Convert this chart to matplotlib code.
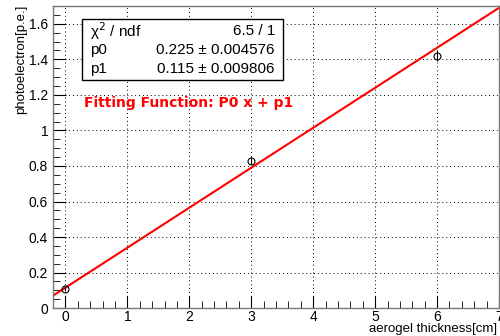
import matplotlib.pyplot as plt
import numpy as np
from matplotlib.ticker import MultipleLocator

plt.rcParams["font.family"] = ["Liberation Sans", "DejaVu Sans"]

# measured points
thickness = [0, 3, 6]
photoelectron = [0.11, 0.83, 1.42]
pe_err = [0.012, 0.018, 0.03]

# fit result (p0 * x + p1)
p0 = 0.225
p1 = 0.115
stats_labels = ["χ$^2$ / ndf", "p0", "p1"]
stats_values = ["6.5 / 1", "0.225 ± 0.004576", "0.115 ± 0.009806"]

fig = plt.figure(figsize=(5, 3.36), dpi=100)
ax = fig.add_axes([0.106, 0.083, 0.892, 0.899])

xfit = np.array([-0.2, 7.0])
ax.plot(xfit, p0 * xfit + p1, color="red", lw=1.5, zorder=2)
ax.errorbar(thickness, photoelectron, yerr=pe_err, fmt="o", mfc="none", mec="black",
            ecolor="black", ms=5, mew=0.8, elinewidth=0.8, capsize=0, zorder=3)

ax.set_xlim(-0.2, 7)
ax.set_ylim(0, 1.7)
ax.xaxis.set_major_locator(MultipleLocator(1))
ax.xaxis.set_minor_locator(MultipleLocator(0.2))
ax.yaxis.set_major_locator(MultipleLocator(0.2))
ax.yaxis.set_minor_locator(MultipleLocator(0.05))
ax.tick_params(which="both", direction="in", top=False, right=False, labelsize=10)
ax.tick_params(which="major", length=9)
ax.tick_params(which="minor", length=5)
ax.tick_params(axis="x", pad=1)
ax.set_yticks(ax.get_yticks())
ax.set_yticklabels([f"{v:g}" for v in ax.get_yticks()])
ax.set_ylim(0, 1.7)
ax.grid(True, which="major", ls=(0, (1, 3)), color="black", lw=0.7)
for s in ax.spines.values():
    s.set_color("#777777")
    s.set_linewidth(1.0)

fig.text(497 / 500, 1 - 329 / 336, "aerogel thickness[cm]", fontsize=9.5, ha="right", va="center")
fig.text(21 / 500, 1 - 5 / 336, "photoelectron[p.e.]", fontsize=9.5, rotation=90,
         ha="center", va="top")

# stats box
bx0, bx1 = 82 / 500, 283 / 500
by0, by1 = 1 - 80 / 336, 1 - 19 / 336
fig.patches.append(plt.Rectangle((bx0, by0), bx1 - bx0, by1 - by0, transform=fig.transFigure,
                                 fc="white", ec="black", lw=1.0, zorder=5))
rows = [31, 50, 69]
for lab, val, r in zip(stats_labels, stats_values, rows):
    fig.text(bx0 + 8 / 500, 1 - r / 336, lab, fontsize=11, va="center", ha="left", zorder=6)
    fig.text(bx1 - 8 / 500, 1 - r / 336, val, fontsize=11, va="center", ha="right", zorder=6)

fig.text(84 / 500, 1 - 103 / 336, "Fitting Function: P0 x + p1", color="red", fontsize=10,
         fontweight="bold", family=["DejaVu Sans"], va="center", ha="left")

fig.savefig("out.png", dpi=100)
